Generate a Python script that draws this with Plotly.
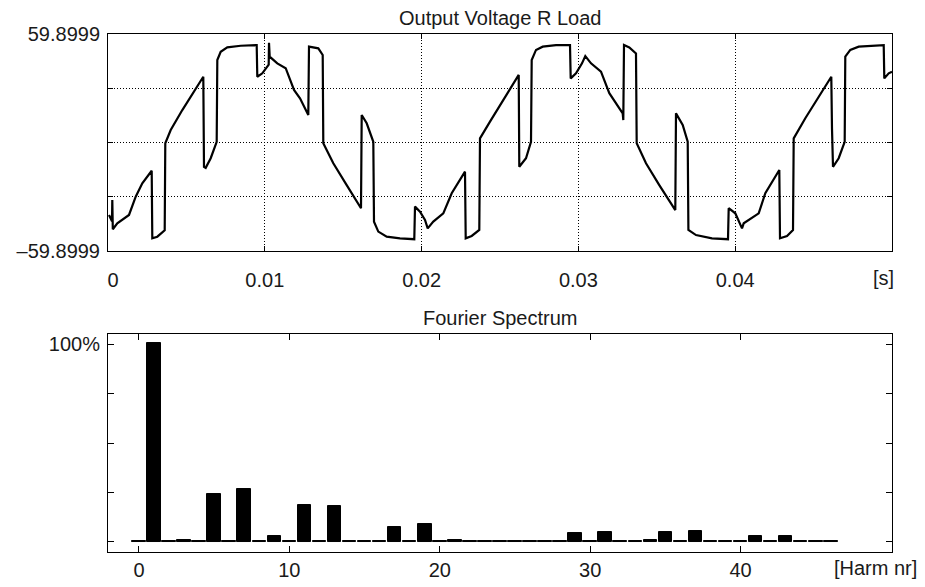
import plotly.graph_objects as go

# ---------------- data ----------------
# Output voltage waveform (time in ms, voltage in V)
time_ms = [0.064, 0.210, 0.255, 0.274, 0.306, 0.593, 1.339, 1.767, 2.187, 2.787,
           2.825, 3.144, 3.527, 3.616, 3.654, 3.999, 4.739, 5.485, 6.078, 6.122,
           6.231, 6.550, 6.932, 6.971, 7.187, 7.608, 8.463, 9.483, 9.522, 9.841,
           10.159, 10.249, 10.268, 10.312, 10.797, 11.333, 11.862, 12.245, 12.774, 12.819,
           13.412, 13.693, 13.731, 14.369, 15.223, 16.135, 16.180, 16.499, 16.920, 16.964,
           17.239, 17.774, 18.622, 19.534, 19.579, 19.898, 20.217, 20.389, 20.746, 21.384,
           21.920, 22.768, 22.813, 23.195, 23.680, 23.724, 24.362, 24.745, 25.593, 26.193,
           26.231, 26.658, 26.977, 27.022, 27.296, 27.723, 28.571, 29.464, 29.509, 29.847,
           30.230, 30.440, 30.804, 31.441, 31.971, 32.825, 32.864, 32.908, 33.246, 33.673,
           33.718, 34.311, 35.159, 36.180, 36.224, 36.652, 36.971, 37.015, 37.500, 38.520,
           39.541, 39.585, 40.006, 40.434, 40.542, 41.499, 41.920, 42.813, 42.857, 43.304,
           43.686, 43.731, 44.471, 45.217, 46.129, 46.173, 46.237, 46.601, 46.983, 47.021,
           47.340, 47.876, 49.471, 49.509, 49.789, 50.000]
voltage = [-40.0, -42.8, -43.5, -31.7, -47.9, -44.6, -40.0, -29.9, -22.5, -15.6,
           -52.9, -52.0, -49.2, -48.5, -0.4, 6.9, 17.9, 28.0, 36.3, -13.4,
           -14.0, -8.7, 0.4, 45.5, 50.1, 52.5, 53.4, 53.8, 36.3, 38.2,
           41.8, 43.0, 55.1, 47.4, 43.7, 41.0, 29.0, 24.4, 15.2, 52.9,
           52.0, 48.3, -0.4, -11.5, -23.5, -36.3, 15.2, 10.6, 0.4, -43.7,
           -49.2, -52.0, -52.9, -53.4, -35.4, -38.2, -42.8, -47.4, -43.7, -39.1,
           -28.0, -16.1, -52.9, -51.6, -48.3, 2.3, 11.5, 17.0, 29.0, 37.3,
           -13.4, -8.7, 0.4, 45.5, 51.1, 52.9, 53.8, 53.8, 35.4, 38.2,
           43.7, 47.7, 43.7, 39.1, 27.2, 16.1, 12.4, 53.8, 52.5, 49.2,
           -0.4, -11.5, -23.5, -37.3, 16.1, 9.7, 0.4, -48.3, -51.1, -52.9,
           -53.4, -36.3, -39.1, -47.4, -44.6, -39.1, -28.0, -15.2, -52.9, -51.6,
           -48.3, 2.3, 13.4, 23.5, 36.3, 7.8, -13.4, -8.7, 0.4, 47.4,
           51.1, 52.9, 53.8, 35.4, 38.2, 39.1]
time_s = [t / 1000.0 for t in time_ms]

v_limit = 59.8999
v_ticks = [-59.8999, -29.95, 0, 29.95, 59.8999]
v_ticktext = ["\u201359.8999", "", "", "", "59.8999"]
t_ticks = [0, 0.01, 0.02, 0.03, 0.04]
t_ticktext = ["\u20020", "0.01", "0.02", "0.03", "0.04"]

# Fourier spectrum (% of fundamental) per harmonic number
harmonic = list(range(0, 47))
amplitude = [0.3, 100.8, 0.3, 0.9, 0.3, 24.0, 0.3, 26.9, 0.3, 2.7,
             0.3, 18.7, 0.3, 17.9, 0.3, 0.3, 0.3, 7.6, 0.3, 9.0,
             0.3, 0.9, 0.3, 0.3, 0.3, 0.3, 0.3, 0.3, 0.3, 4.2,
             0.3, 4.9, 0.3, 0.3, 0.9, 4.9, 0.3, 5.6, 0.3, 0.3,
             0.3, 2.7, 0.3, 3.0, 0.3, 0.3, 0.3]
h_ticks = [0, 10, 20, 30, 40]
p_ticks = [0, 25, 50, 75, 100]
p_ticktext = ["", "", "", "", "100%"]

# ---------------- figure ----------------
FONT = "Liberation Sans, Arial, Helvetica, sans-serif"
TXT = "#1a1a1a"
FS = 20

fig = go.Figure()
fig.add_trace(go.Scatter(x=time_s, y=voltage, mode="lines",
                         line=dict(color="black", width=2.2),
                         xaxis="x", yaxis="y", hoverinfo="skip"))
fig.add_trace(go.Bar(x=harmonic, y=amplitude, width=0.9,
                     marker=dict(color="black", line=dict(color="black", width=1)),
                     xaxis="x2", yaxis="y2", hoverinfo="skip"))

grid = dict(showgrid=True, gridcolor="black", gridwidth=1, griddash="1px,2px")
frame = dict(showline=True, linecolor="black", linewidth=1, mirror="ticks",
             ticks="inside", tickcolor="black", zeroline=False)

# page body has an 8px margin, so the figure is drawn 8px right/down
fig.update_layout(
    width=917, height=579,
    paper_bgcolor="white", plot_bgcolor="white",
    showlegend=False,
    margin=dict(l=100, r=33, t=26, b=35, autoexpand=False),
    font=dict(family=FONT, size=FS, color=TXT),
    xaxis=dict(domain=[0, 1], anchor="y", range=[0, 0.05],
               tickmode="array", tickvals=t_ticks, ticktext=t_ticktext,
               ticklen=5, ticklabelstandoff=11, **grid, **frame),
    yaxis=dict(domain=[0.5811, 1], anchor="x", range=[-v_limit, v_limit],
               tickmode="array", tickvals=v_ticks, ticktext=v_ticktext,
               ticklen=5, ticklabelstandoff=3, **grid, **frame),
    xaxis2=dict(domain=[0, 1], anchor="y2", range=[-2.06, 50.07],
                tickmode="array", tickvals=h_ticks, ticklen=6,
                showgrid=False, **frame),
    yaxis2=dict(domain=[0, 0.4208], anchor="x2", range=[-5.2, 105.2],
                tickmode="array", tickvals=p_ticks, ticktext=p_ticktext,
                ticklen=6, ticklabelstandoff=3, showgrid=False, **frame),
    bargap=0,
    annotations=[
        dict(text="Output Voltage R Load", xref="x domain", yref="y domain",
             x=0.5, y=1, xanchor="center", yanchor="bottom", yshift=3,
             showarrow=False, font=dict(size=FS, color=TXT, family=FONT)),
        dict(text="Fourier Spectrum", xref="x2 domain", yref="y2 domain",
             x=0.5, y=1, xanchor="center", yanchor="bottom", yshift=3,
             showarrow=False, font=dict(size=FS, color=TXT, family=FONT)),
        dict(text="[s]", xref="x domain", yref="y domain",
             x=1, y=0, xanchor="right", yanchor="top", xshift=4, yshift=-14,
             showarrow=False, font=dict(size=FS, color=TXT, family=FONT)),
        dict(text="[Harm nr]", xref="x2 domain", yref="y2 domain",
             x=1, y=0, xanchor="right", yanchor="top", xshift=27, yshift=-3,
             showarrow=False, font=dict(size=FS, color=TXT, family=FONT)),
    ],
)

fig.write_html("out.html")
